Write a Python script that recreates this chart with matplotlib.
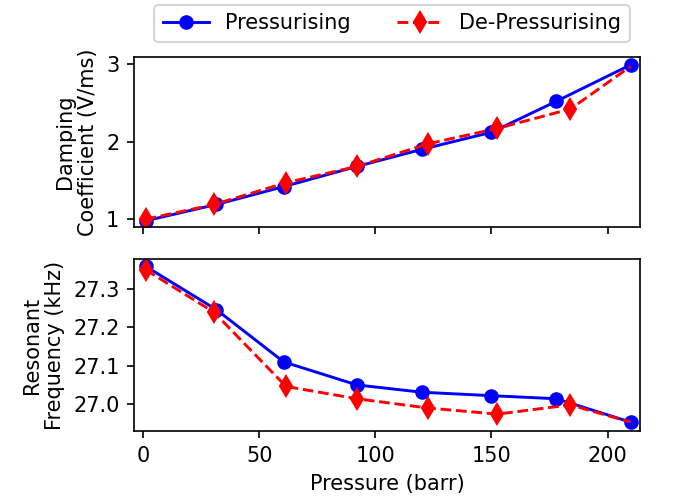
import numpy as np
import matplotlib.pyplot as plt

# pressure values (barr)
p_up = [1, 31.5, 60.5, 92, 120, 150, 178, 210]
p_down = [1, 30.5, 61.5, 92, 122.5, 152.5, 184, 210]

# damping coefficient (V/ms)
damp_up = [0.98, 1.19, 1.42, 1.68, 1.90, 2.12, 2.52, 2.99]
damp_down = [1.00, 1.19, 1.47, 1.68, 1.97, 2.17, 2.42, 2.97]

# resonant frequency (kHz)
freq_up = [27.359, 27.246, 27.110, 27.050, 27.031, 27.022, 27.014, 26.953]
freq_down = [27.350, 27.239, 27.046, 27.014, 26.990, 26.974, 26.998, 26.953]

DPI = 150
W, H = 686, 503
fig = plt.figure(figsize=(W / DPI, H / DPI), dpi=DPI)
ax1 = fig.add_axes([134 / W, 1 - 227 / H, 506 / W, 170 / H])
ax2 = fig.add_axes([134 / W, 1 - 431 / H, 506 / W, 172 / H])

for ax, yu, yd in [(ax1, damp_up, damp_down), (ax2, freq_up, freq_down)]:
    ax.plot(p_up, yu, 'b-o', lw=1.4, ms=6, label='Pressurising')
    # start point (210 barr) sits under the blue marker in the original
    ax.plot(p_down, yd, 'r--d', lw=1.4, ms=7, markevery=slice(0, len(p_down) - 1),
            label='De-Pressurising')
    ax.set_xlim(-4, 214)
    ax.set_xticks([0, 50, 100, 150, 200])

ax1.set_xticklabels([])
ax1.set_ylim(0.90, 3.09)
ax1.set_yticks([1, 2, 3])
ax1.set_ylabel('Damping\nCoefficient (V/ms)')
ax2.set_ylim(26.93, 27.378)
ax2.set_yticks([27.0, 27.1, 27.2, 27.3])
ax2.set_ylabel('Resonant\nFrequency (kHz)')
ax2.set_xlabel('Pressure (barr)')

ax1.legend(loc='upper center', bbox_to_anchor=(392 / W, 1 - 5 / H), bbox_transform=fig.transFigure,
           ncol=2, borderaxespad=0, handlelength=2.2, columnspacing=2.2)

fig.savefig('out.png', dpi=DPI)
